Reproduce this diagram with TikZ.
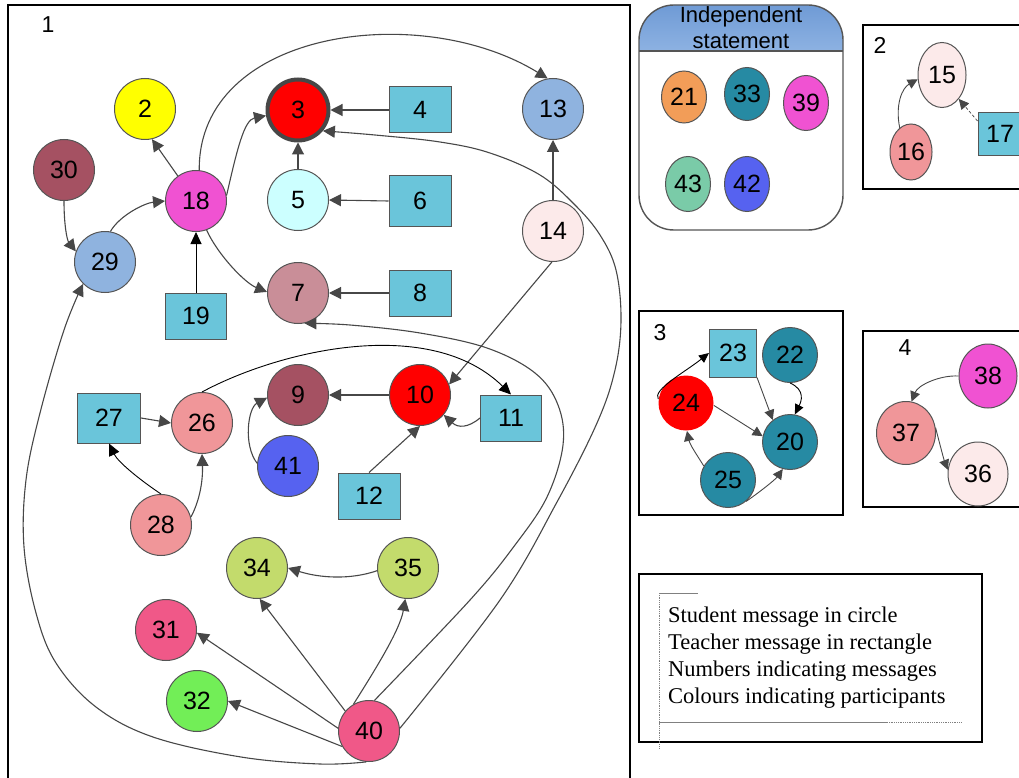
\documentclass[tikz,border=0pt]{standalone}
\usepackage{fontspec}
\setmainfont{Liberation Sans}
\newfontfamily\legendfont{Liberation Serif}
\usetikzlibrary{arrows.meta,shapes.geometric}
\definecolor{edgegray}{HTML}{555555}
\definecolor{arrowgray}{HTML}{474747}
\definecolor{cyanbox}{HTML}{6AC5DA}
\definecolor{cyellow}{HTML}{FFFF00}
\definecolor{cred}{HTML}{FF0000}
\definecolor{cwine}{HTML}{A55162}
\definecolor{cmagenta}{HTML}{F052D2}
\definecolor{cice}{HTML}{CCFFFF}
\definecolor{csteel}{HTML}{8FB3DF}
\definecolor{cblush}{HTML}{FCEAEA}
\definecolor{cdusty}{HTML}{C98E98}
\definecolor{cblue}{HTML}{5662F0}
\definecolor{csalmon}{HTML}{F09699}
\definecolor{colive}{HTML}{C3DB6C}
\definecolor{cpink}{HTML}{F05888}
\definecolor{cgreen}{HTML}{72EE57}
\definecolor{corange}{HTML}{F29D58}
\definecolor{cteal}{HTML}{268AA3}
\definecolor{cmint}{HTML}{7ACBA8}
\definecolor{hdrtop}{HTML}{6C98D4}
\definecolor{hdrbot}{HTML}{8DB2E2}
\tikzset{
  base/.style={draw=edgegray, line width=1pt, inner sep=0pt, font=\fontsize{25}{25}\selectfont},
  circ/.style={base, circle, minimum size=61pt},
  scirc/.style={base, circle, minimum size=55pt},
  ell/.style={base, ellipse},
  rect/.style={base, rectangle, fill=cyanbox, minimum width=62pt, minimum height=46pt},
  ga/.style={draw=arrowgray, line width=1.1pt, -{Triangle[length=12pt,width=12pt]}},
  gs/.style={draw=arrowgray, line width=0.9pt, -{Triangle[length=10pt,width=10pt]}},
  ba/.style={draw=black, line width=0.9pt, -{Triangle[length=12pt,width=11pt]}},
  bs/.style={draw=black, line width=0.9pt, -{Triangle[length=10pt,width=9pt]}},
  frame/.style={draw=black, line width=1.4pt},
  lbl/.style={font=\fontsize{23}{23}\selectfont},
}
\begin{document}
\begin{tikzpicture}[x=1pt,y=-1pt]
\useasboundingbox (0,0) rectangle (1019,778);
\fill[white] (0,0) rectangle (1019,778);

% ---------- panel 1 ----------
\draw[draw=black, line width=1.2pt] (8,800) -- (8,5) -- (630,5) -- (630,800);
\node[lbl] (l1) at (48,25) {1};

\node[circ, fill=cyellow] (n2) at (145,109) {2};
\node[circ, fill=cred, line width=4pt, draw=arrowgray] (n3) at (298,110) {3};
\node[rect] (n4) at (420,110) {4};
\node[circ, fill=csteel] (n13) at (553,109) {13};
\node[circ, fill=cwine] (n30) at (64,170) {30};
\node[circ, fill=cmagenta] (n18) at (196,201) {18};
\node[circ, fill=cice] (n5) at (298,200) {5};
\node[rect, minimum height=51pt] (n6) at (420,201) {6};
\node[circ, fill=cblush] (n14) at (553,231) {14};
\node[circ, fill=csteel] (n29) at (105,262) {29};
\node[rect, minimum width=61pt] (n19) at (196,316) {19};
\node[circ, fill=cdusty] (n7) at (298,293) {7};
\node[rect] (n8) at (420,293) {8};
\node[circ, fill=cwine] (n9) at (298,395) {9};
\node[circ, fill=cred] (n10) at (420,395) {10};
\node[rect, minimum width=61pt] (n11) at (511,418) {11};
\node[rect, minimum width=63pt, minimum height=50pt] (n27) at (109,418) {27};
\node[circ, fill=csalmon] (n26) at (202,423) {26};
\node[circ, fill=cblue] (n41) at (288,466) {41};
\node[rect] (n12) at (369,496) {12};
\node[circ, fill=csalmon] (n28) at (161,525) {28};
\node[circ, fill=colive] (n34) at (257,568) {34};
\node[circ, fill=colive] (n35) at (408,568) {35};
\node[circ, fill=cpink] (n31) at (166,630) {31};
\node[circ, fill=cgreen] (n32) at (197,701) {32};
\node[circ, fill=cpink] (n40) at (369,731) {40};

\draw[ga] (n18.126) -- (n2.-77);
\draw[ga] (n18.10) .. controls (237,150) and (244,120) .. (n3.190);
\draw[ga] (n18.84) .. controls (198,30) and (420,0) .. (n13.100);
\draw[ga] (n4.west) -- (n3.east);
\draw[ga] (n5.north) -- (n3.south);
\draw[ga] (n6.west) -- (n5.east);
\draw[ga] (n8.west) -- (n7.east);
\draw[ga] (n14.north) -- (n13.south);
\draw[ga] (n14.-92) -- (n10.20);
\draw[ba] (n19.north) -- (n18.south);
\draw[ga] (n18.-70) .. controls (218,255) and (245,283) .. (n7.178);
\draw[ga] (n30.south) .. controls (64,225) and (67,240) .. (n29.160);
\draw[ga] (n29.80) .. controls (120,215) and (145,203) .. (n18.180);
\draw[ga] plot[smooth, tension=0.6] coordinates {(n40.-95) (320,764) (241,757) (153,737) (96,707) (56,663) (36,613) (24,547) (26,480) (40,413) (64,330) (n29.-135)};
\draw[ga] plot[smooth, tension=0.6] coordinates {(n40.5) (500,600) (557,502) (597,423) (615,370) (621,320) (616,270) (600,235) (575,205) (540,175) (490,153) (440,142) (375,135) (n3.-40)};
\draw[ga] plot[smooth, tension=0.6] coordinates {(n40.80) (470,600) (515,545) (547,497) (563,445) (558,405) (535,373) (487,348) (420,333) (350,325) (n7.-78)};
\draw[ga] (n40.175) -- (n31.-5);
\draw[ga] (n40.210) -- (n32.0);
\draw[ga] (n40.140) -- (n34.-85);
\draw[ga] (n40.120) .. controls (375,670) and (400,630) .. (n35.-95);
\draw[ga] (n35.185) .. controls (350,580) and (320,578) .. (n34.0);
\draw[ga] (n10.west) -- (n9.east);
\draw[ga] (n11.west) .. controls (468,428) and (458,428) .. (n10.-40);
\draw[ga] (n12.north) -- (n10.south);
\draw[ga] (n41.175) .. controls (243,445) and (248,408) .. (n9.185);
\draw[ga] (n27.east) -- (n26.west);
\draw[ba] (n28.north) .. controls (140,480) and (118,462) .. (n27.south);
\draw[ga] (n28.15) .. controls (200,500) and (203,480) .. (n26.south);
\draw[ba] (n26.north) .. controls (280,350) and (430,315) .. (n11.north);

% ---------- independent statement ----------
\begin{scope}
\clip[rounded corners=35pt] (639,5) rectangle (843,230);
\shade[top color=hdrtop, bottom color=hdrbot] (630,0) rectangle (850,51);
\end{scope}
\draw[draw=edgegray, line width=1.3pt] (639,51) -- (843,51);
\draw[draw=edgegray, line width=1.4pt, rounded corners=35pt] (639,5) rectangle (843,230);
\node[font=\fontsize{22}{26}\selectfont, align=center] (hdr) at (741,28) {Independent\\statement};
\node[ell, fill=corange, minimum width=45pt, minimum height=52pt] (n21) at (684,97) {21};
\node[ell, fill=cteal, minimum width=45pt, minimum height=53pt] (n33) at (747,94) {33};
\node[ell, fill=cmagenta, minimum width=45pt, minimum height=55pt] (n39) at (806,103) {39};
\node[ell, fill=cmint, minimum width=45pt, minimum height=55pt] (n43) at (688,184) {43};
\node[ell, fill=cblue, minimum width=45pt, minimum height=55pt] (n42) at (747,184) {42};

% ---------- panel 2 ----------
\draw[frame] (1030,25) -- (863,25) -- (863,189) -- (1030,189);
\node[lbl] (l2) at (880,45) {2};
\node[ell, fill=cblush, minimum width=48pt, minimum height=65pt] (n15) at (942,75) {15};
\node[ell, fill=csalmon, minimum width=42pt, minimum height=56pt] (n16) at (911,152) {16};
\node[rect, minimum width=44pt, minimum height=43pt] (n17) at (1000,134) {17};
\draw[gs] (n16.115) .. controls (895,105) and (902,88) .. (n15.190);
\draw[gs, densely dashed, line width=0.7pt] (n17.150) -- (n15.-55);

% ---------- panel 3 ----------
\draw[frame] (639,311) rectangle (843,515);
\node[lbl] (l3) at (660,333) {3};
\node[rect, minimum width=47pt, minimum height=48pt] (n23) at (733,353) {23};
\node[scirc, fill=cteal] (n22) at (790,355) {22};
\node[scirc, fill=cred, draw=none] (n24) at (686,403) {24};
\node[scirc, fill=cteal] (n20) at (790,442) {20};
\node[scirc, fill=cteal] (n25) at (728,480) {25};
\draw[bs] (n24.172) .. controls (652,390) and (685,372) .. (n23.west);
\draw[gs] (n23.south east) -- (n20.128);
\draw[bs] (n22.-90) .. controls (806,390) and (801,402) .. (n20.80);
\draw[gs] (n24.-5) -- (n20.168);
\draw[gs] (n25.150) .. controls (697,455) and (690,445) .. (n24.-88);
\draw[gs] (n25.-50) .. controls (757,494) and (775,480) .. (n20.-105);

% ---------- panel 4 ----------
\draw[frame] (1030,331) -- (863,331) -- (863,507) -- (1030,507);
\node[lbl] (l4) at (905,348) {4};
\node[ell, fill=cmagenta, minimum width=58pt, minimum height=64pt] (n38) at (988,376) {38};
\node[ell, fill=csalmon, minimum width=59pt, minimum height=63pt] (n37) at (906,433) {37};
\node[ell, fill=cblush, minimum width=60pt, minimum height=64pt] (n36) at (978,474) {36};
\draw[gs] (n38.180) .. controls (940,375) and (918,385) .. (n37.80);
\draw[gs] (n37.10) .. controls (940,445) and (944,460) .. (n36.172);

% ---------- legend ----------
\draw[frame] (639,574) rectangle (982,742);
\draw[draw=gray, line width=0.8pt, densely dotted] (659,593) -- (659,748);
\draw[draw=gray, line width=1pt] (659,593) -- (698,593);
\draw[draw=gray, line width=1pt] (659,722) -- (887,722);
\draw[draw=gray, line width=0.8pt, densely dotted] (887,722) -- (962,722);
\node[font=\legendfont\fontsize{22.5}{27}\selectfont, align=left, anchor=west, inner sep=0pt] (leg) at (668,658)
  {Student message in circle\\Teacher message in rectangle\\Numbers indicating messages\\Colours indicating participants};
\end{tikzpicture}
\end{document}
